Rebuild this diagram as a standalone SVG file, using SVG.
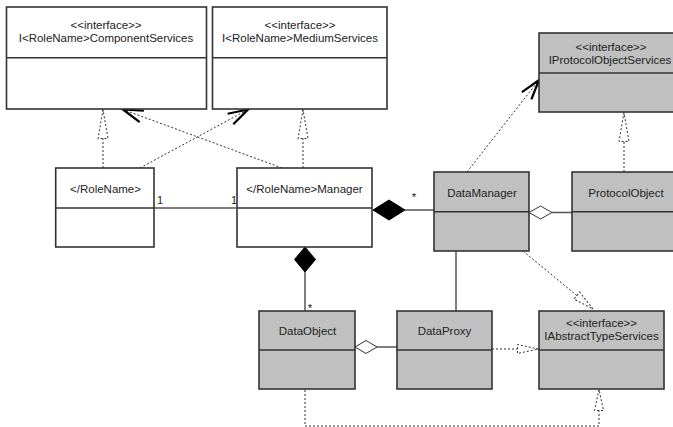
<svg xmlns="http://www.w3.org/2000/svg" width="673" height="427" viewBox="0 0 673 427">
<style>
.box{stroke:#333;stroke-width:1.6;}
.w{fill:#fff;}
.g{fill:#c0c0c0;}
.div{stroke:#333;stroke-width:1.6;}
text{font-family:"Liberation Sans",Arial,sans-serif;font-size:11.5px;fill:#222;text-anchor:middle;}
.lbl{text-anchor:start;font-size:11px;}
.dash{fill:none;stroke:#333;stroke-width:1;stroke-dasharray:2,2;}
.solid{fill:none;stroke:#555;stroke-width:1.5;}
.fd{fill:#000;stroke:#000;stroke-width:1;}
.hd{fill:#fff;stroke:#333;stroke-width:1;}
</style>
<defs>
<marker id="open" markerUnits="userSpaceOnUse" markerWidth="30" markerHeight="30" refX="0" refY="0" orient="auto" overflow="visible">
<path d="M-20,-6 L0,0 L-20,6" fill="none" stroke="#000" stroke-width="2.2"/>
</marker>
<marker id="triL" markerUnits="userSpaceOnUse" markerWidth="40" markerHeight="20" refX="0" refY="0" orient="auto" overflow="visible">
<path d="M0,0 L-29,-5 L-29,5 Z" fill="#fff" stroke="#333" stroke-width="1" stroke-dasharray="2,2"/>
</marker>
<marker id="triS" markerUnits="userSpaceOnUse" markerWidth="40" markerHeight="20" refX="0" refY="0" orient="auto" overflow="visible">
<path d="M0,0 L-21,-4.5 L-21,4.5 Z" fill="#fff" stroke="#333" stroke-width="1" stroke-dasharray="2,2"/>
</marker>
</defs>
<rect width="673" height="427" fill="#fff"/>

<g id="connectors">
<!-- realizations -->
<path class="dash" d="M103,168 L103,109.5" marker-end="url(#triL)"/>
<path class="dash" d="M303,168 L303,109.5" marker-end="url(#triL)"/>
<path class="dash" d="M624,172 L624,112.5" marker-end="url(#triL)"/>
<path class="dash" d="M523,251 L593,309" marker-end="url(#triS)"/>
<path class="dash" d="M492,349 L538.5,349" marker-end="url(#triS)"/>
<path class="dash" d="M305,390 L305,426 L599,426 L599,389.5" marker-end="url(#triS)"/>
<!-- dependencies -->
<path class="dash" d="M140,168 L248,109.5" marker-end="url(#open)"/>
<path class="dash" d="M282,168 L123,109.5" marker-end="url(#open)"/>
<path class="dash" d="M467,172 L539,80" marker-end="url(#open)"/>
<!-- associations -->
<path class="solid" d="M154,208 L236,208"/>
<text class="lbl" x="157" y="204">1</text>
<text class="lbl" x="231" y="204">1</text>
<!-- composition Manager - DataManager -->
<path class="solid" d="M405,210 L434,210"/>
<polygon class="fd" points="373,210 389,200 405,210 389,220"/>
<text x="414" y="201" font-size="10">*</text>
<!-- composition Manager - DataObject -->
<path class="solid" d="M305,272 L305,311"/>
<polygon class="fd" points="305,247 315.5,259.5 305,272 294.5,259.5"/>
<text x="310" y="312" font-size="10">*</text>
<!-- DataManager - DataProxy -->
<path class="solid" d="M456,251 L456,311"/>
<!-- aggregation DataManager - ProtocolObject -->
<path class="solid" d="M552,212.5 L572,212.5"/>
<polygon class="hd" points="529,212.5 540.5,206 552,212.5 540.5,219"/>
<!-- aggregation DataObject - DataProxy -->
<path class="solid" d="M377,347 L397,347"/>
<polygon class="hd" points="355,347 366,340.5 377,347 366,353.5"/>
</g>

<g id="IComponentServices">
<rect class="box w" x="6.5" y="7" width="200" height="102"/>
<line class="div" x1="6.5" y1="57.7" x2="206.5" y2="57.7"/>
<text x="106" y="29">&lt;&lt;interface&gt;&gt;</text>
<text x="106" y="42">I&lt;RoleName&gt;ComponentServices</text>
</g>

<g id="IMediumServices">
<rect class="box w" x="212.5" y="7" width="174.5" height="102"/>
<line class="div" x1="212.5" y1="57.7" x2="387" y2="57.7"/>
<text x="300" y="29">&lt;&lt;interface&gt;&gt;</text>
<text x="300" y="42">I&lt;RoleName&gt;MediumServices</text>
</g>

<g id="IProtocolObjectServices">
<rect class="box g" x="539" y="33" width="145" height="79"/>
<line class="div" x1="539" y1="73" x2="684" y2="73"/>
<text x="611" y="51">&lt;&lt;interface&gt;&gt;</text>
<text x="610" y="64">IProtocolObjectServices</text>
</g>

<g id="RoleName">
<rect class="box w" x="55.7" y="168" width="98.3" height="79"/>
<line class="div" x1="55.7" y1="208" x2="154" y2="208"/>
<text x="105.5" y="193">&lt;/RoleName&gt;</text>
</g>

<g id="RoleNameManager">
<rect class="box w" x="237" y="168" width="135" height="79"/>
<line class="div" x1="237" y1="208" x2="372" y2="208"/>
<text x="304.5" y="193">&lt;/RoleName&gt;Manager</text>
</g>

<g id="DataManager">
<rect class="box g" x="434" y="172" width="95" height="79"/>
<line class="div" x1="434" y1="211.8" x2="529" y2="211.8"/>
<text x="482" y="197">DataManager</text>
</g>

<g id="ProtocolObject">
<rect class="box g" x="572" y="172" width="110" height="79"/>
<line class="div" x1="572" y1="211.8" x2="682" y2="211.8"/>
<text x="626" y="197">ProtocolObject</text>
</g>

<g id="DataObject">
<rect class="box g" x="259" y="311" width="96" height="78"/>
<line class="div" x1="259" y1="350" x2="355" y2="350"/>
<text x="307.5" y="335">DataObject</text>
</g>

<g id="DataProxy">
<rect class="box g" x="397" y="311" width="95" height="78"/>
<line class="div" x1="397" y1="350" x2="492" y2="350"/>
<text x="444.5" y="335">DataProxy</text>
</g>

<g id="IAbstractTypeServices">
<rect class="box g" x="539" y="311" width="125" height="78"/>
<line class="div" x1="539" y1="350" x2="664" y2="350"/>
<text x="601.5" y="327">&lt;&lt;interface&gt;&gt;</text>
<text x="601.5" y="340">IAbstractTypeServices</text>
</g>
</svg>
